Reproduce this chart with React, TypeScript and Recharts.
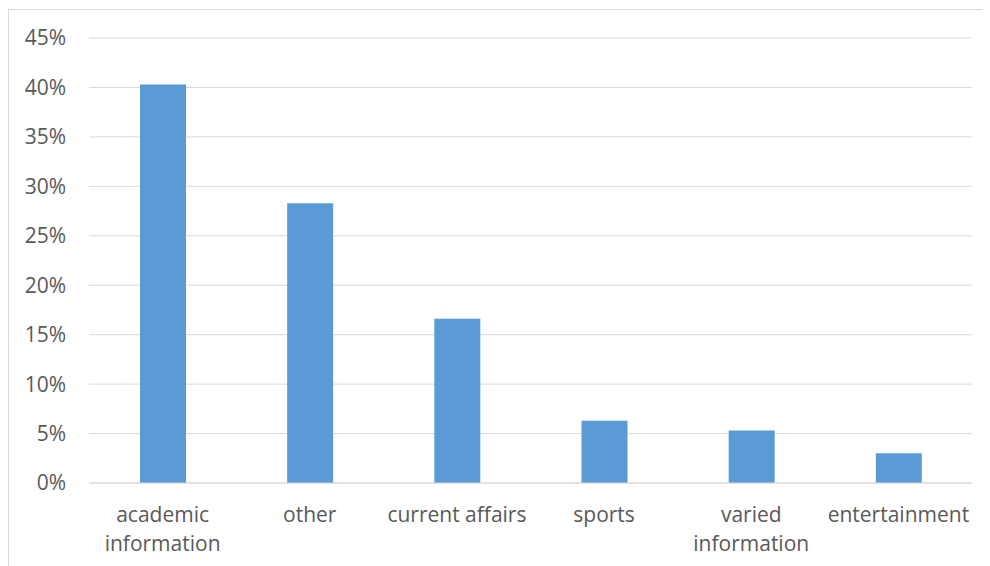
import { BarChart, Bar, XAxis, YAxis, CartesianGrid } from 'recharts';

const categories = [
  'academic information',
  'other',
  'current affairs',
  'sports',
  'varied information',
  'entertainment',
];
const shares = [40.3, 28.3, 16.6, 6.3, 5.3, 3.0];
const yTicks = [0, 5, 10, 15, 20, 25, 30, 35, 40, 45];

const data = categories.map((name, i) => ({ name, value: shares[i] }));

const FONT = '"Open Sans", sans-serif';
const GREY = '#595959';

// wrap long labels onto two lines like the original
function CategoryTick(props: any) {
  const { x, y, payload } = props;
  const label: string = payload.value;
  const lines = label.length > 16 ? label.split(' ') : [label];
  return (
    <text
      x={x}
      y={y + 39}
      textAnchor="middle"
      fill={GREY}
      fontSize={21}
      fontFamily={FONT}
    >
      {lines.map((l, i) => (
        <tspan key={i} x={x} dy={i === 0 ? 0 : 29}>
          {l}
        </tspan>
      ))}
    </text>
  );
}

export default function App() {
  return (
    <div
      style={{
        width: 981,
        height: 556,
        marginTop: 1,
        borderLeft: '1px solid #d9d9d9',
        borderTop: '1px solid #d9d9d9',
        background: '#fff',
      }}
    >
      <BarChart
        width={981}
        height={556}
        data={data}
        margin={{ top: 28, right: 18, left: 0, bottom: 13 }}
      >
        <CartesianGrid vertical={false} stroke="#d9d9d9" />
        <XAxis
          dataKey="name"
          interval={0}
          height={70}
          tickLine={false}
          tickSize={0}
          tickMargin={0}
          axisLine={{ stroke: '#d9d9d9' }}
          tick={<CategoryTick />}
        />
        <YAxis
          width={80}
          domain={[0, 45]}
          ticks={yTicks}
          axisLine={false}
          tickLine={false}
          tickSize={0}
          tickMargin={23}
          tickFormatter={(v) => `${v}%`}
          tick={{ fill: GREY, fontSize: 21, fontFamily: FONT }}
        />
        <Bar dataKey="value" fill="#5b9bd5" barSize={46} isAnimationActive={false} />
      </BarChart>
    </div>
  );
}
